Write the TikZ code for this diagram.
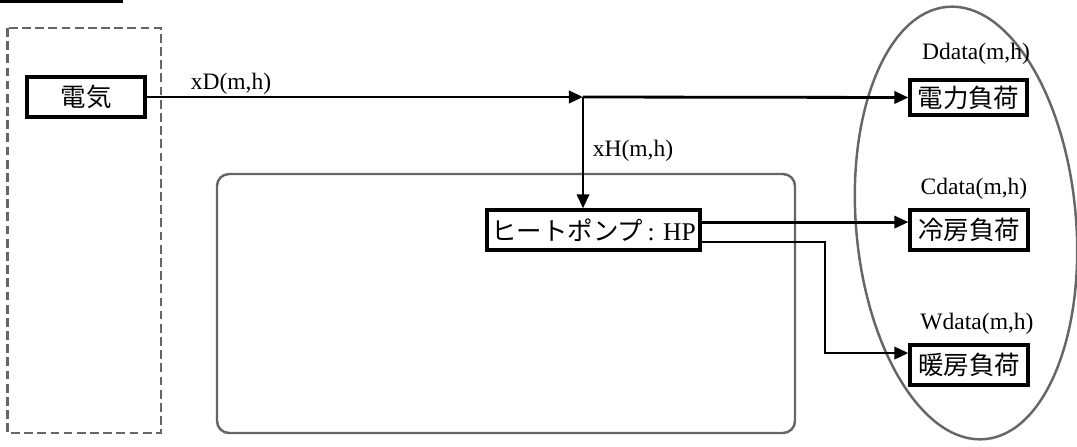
\documentclass[tikz,border=0pt]{standalone}
\usepackage{fontspec}
\setmainfont{Liberation Serif}
\newfontfamily\jp{Noto Sans CJK JP}
\usetikzlibrary{arrows.meta,calc}
\begin{document}
\begin{tikzpicture}[x=0.02cm,y=-0.02cm,
  box/.style={draw,line width=1.9pt,inner sep=0pt,font=\jp\fontsize{14.5}{16}\selectfont},
  conn/.style={line width=1.6pt,-{Triangle[length=8pt,width=7pt]}},
  lbl/.style={font=\fontsize{13.4}{15}\selectfont,inner sep=0pt},
  zone/.style={draw=black!60,line width=1.4pt}]
\useasboundingbox (0,0) rectangle (1077,446);
% top-left bar
\fill (0,0) rectangle (123,3);
% zones
\draw[zone,dash pattern=on 5pt off 2.5pt] (7.5,28) rectangle (161,433);
\draw[zone,rounded corners=0.24cm] (217,174) rectangle (795,433);
\draw[zone,rotate around={5:(966,223)}] (966,223) ellipse [x radius=2.2cm,y radius=4.34cm];
% nodes
\node[box,minimum width=2.36cm,minimum height=0.8cm] (denki) at (86,97) {電気};
\node[box,minimum width=4.26cm,minimum height=0.8cm] (hp) at (593.5,230) {ヒートポンプ{\rmfamily\,: HP}};
\node[box,minimum width=2.34cm,minimum height=0.7cm] (dryoku) at (968.5,97.5) {電力負荷};
\node[box,minimum width=2.36cm,minimum height=0.8cm] (reibou) at (969,230) {冷房負荷};
\node[box,minimum width=2.36cm,minimum height=0.8cm] (danbou) at (969,365) {暖房負荷};
% labels
\node[lbl] (lxd) at (231,84) {xD(m,h)};
\node[lbl] (lxh) at (633,151) {xH(m,h)};
\node[lbl] (ld) at (976,54) {Ddata(m,h)};
\node[lbl] (lc) at (974,189) {Cdata(m,h)};
\node[lbl] (lw) at (977,324) {Wdata(m,h)};
% connectors
\coordinate (j) at (583,97);
\coordinate (t) at (825,300);
\draw[conn] (denki.east) -- (j);
\draw[conn] (j) -- (dryoku.west);
\draw[conn] (j) -- (hp.north -| j);
\draw[conn] ([yshift=4.5pt]hp.east) -- ([yshift=4.5pt]reibou.west);
\draw[conn] ([yshift=-6.8pt]hp.east) -| (t) |- ([yshift=6.8pt]danbou.west);
\end{tikzpicture}
\end{document}
